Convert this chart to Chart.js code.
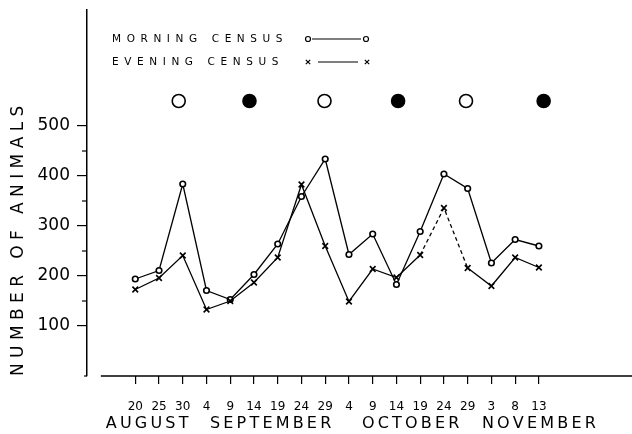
<!DOCTYPE html>
<html>
<head>
<meta charset="utf-8">
<script src="https://cdn.jsdelivr.net/npm/chart.js@4/dist/chart.umd.min.js"></script>
<style>
html,body{margin:0;padding:0;background:#fff}
#wrap{width:632px;height:434px}
</style>
</head>
<body>
<div id="wrap"><canvas id="grafico"></canvas></div>
<script>
// census dates (tick labels) and months
const days = ['20','25','30','4','9','14','19','24','29','4','9','14','19','24','29','3','8','13']
const months = ['AUGUST','SEPTEMBER','OCTOBER','NOVEMBER']
const monthMid = [0.5, 5.7, 11.6, 17.0]   // month centre, in census-index units
const morning = [194,211,384,171,153,203,264,359,434,243,284,183,289,404,375,226,273,260]
const evening = [173,196,241,133,150,187,237,383,260,149,214,197,242,336,216,180,237,217]
// moon phases: open = full moon, filled = new moon
const moonAt = [1.83, 4.81, 7.97, 11.07, 13.93, 17.2]
const moonFull = [true, false, true, false, true, false]
const moonLevel = 550
const yTicks = [100,200,300,400,500]
const yMinor = [150,250,350,450]

const font = '"DejaVu Sans", sans-serif'
const spaced = s => s.split('').join('\u2009')
const xMin = -2.033, xMax = 20.58

const decor = {
  id: 'decor',
  afterDraw(chart) {
    const c = chart.ctx, x = chart.scales.x, y = chart.scales.y
    const y0 = y.getPixelForValue(0)
    c.save()
    c.strokeStyle = '#000'
    c.lineWidth = 1.5
    // x baseline, starting a little right of the y axis
    c.beginPath()
    c.moveTo(x.getPixelForValue(-1.45), y0)
    c.lineTo(chart.width, y0)
    c.stroke()
    // minor y ticks
    c.lineWidth = 1.2
    yMinor.forEach(v => {
      const p = y.getPixelForValue(v)
      c.beginPath(); c.moveTo(y.right - 5, p); c.lineTo(y.right, p); c.stroke()
    })
    c.beginPath(); c.moveTo(y.right - 3, y0); c.lineTo(y.right, y0); c.stroke()

    // legend
    c.fillStyle = '#000'
    c.font = '10.5px ' + font
    c.letterSpacing = '5.6px'
    c.textBaseline = 'alphabetic'
    c.fillText('MORNING CENSUS', 112, 42)
    c.fillText('EVENING CENSUS', 112, 65)
    c.letterSpacing = '0px'
    c.lineWidth = 1.2
    // morning marker o——o
    c.beginPath(); c.arc(308, 39, 2.5, 0, Math.PI * 2); c.stroke()
    c.beginPath(); c.moveTo(312, 39); c.lineTo(361, 39); c.stroke()
    c.beginPath(); c.arc(366, 39, 2.5, 0, Math.PI * 2); c.stroke()
    // evening marker x——x
    const cross = (px, py, r) => {
      c.beginPath()
      c.moveTo(px - r, py - r); c.lineTo(px + r, py + r)
      c.moveTo(px - r, py + r); c.lineTo(px + r, py - r)
      c.stroke()
    }
    cross(308, 62, 2.2)
    c.beginPath(); c.moveTo(318, 62); c.lineTo(358, 62); c.stroke()
    cross(367, 62, 2.2)
    c.restore()
  }
}

const ctx = document.getElementById('grafico')
new Chart(ctx, {
  type: 'line',
  data: {
    datasets: [{
      label: 'EVENING CENSUS',
      data: evening.map((v, i) => ({x: i, y: v})),
      borderColor: '#000',
      borderWidth: 1.3,
      pointStyle: 'crossRot',
      pointRadius: 4,
      pointBorderWidth: 1.6,
      pointBorderColor: '#000',
      tension: 0,
      segment: {
        borderDash: s => (s.p0DataIndex === 12 || s.p0DataIndex === 13) ? [4, 3] : undefined
      }
    }, {
      label: 'MORNING CENSUS',
      data: morning.map((v, i) => ({x: i, y: v})),
      borderColor: '#000',
      borderWidth: 1.3,
      pointStyle: 'circle',
      pointRadius: 2.8,
      pointBackgroundColor: '#fff',
      pointBorderColor: '#000',
      pointBorderWidth: 1.6,
      tension: 0
    }, {
      label: 'moon',
      data: moonAt.map(v => ({x: v, y: moonLevel})),
      showLine: false,
      pointStyle: 'circle',
      pointRadius: 6.5,
      pointBorderWidth: 1.6,
      pointBorderColor: '#000',
      pointBackgroundColor: moonFull.map(f => f ? '#fff' : '#000')
    }]
  },
  options: {
    responsive: true,
    maintainAspectRatio: false,
    animation: false,
    layout: {padding: {top: 10, left: 0, right: 0, bottom: 0}},
    plugins: {legend: {display: false}, tooltip: {enabled: false}},
    scales: {
      x: {
        type: 'linear',
        position: 'bottom',
        min: xMin, max: xMax,
        afterBuildTicks: s => { s.ticks = days.map((d, i) => ({value: i})) },
        afterFit: s => { s.height = 34; s.paddingLeft = 0; s.paddingRight = 0 },
        ticks: {
          autoSkip: false, maxRotation: 0, color: '#000', padding: 16,
          font: {family: font, size: 12},
          callback: v => days[v]
        },
        grid: {drawOnChartArea: false, tickLength: 8, color: '#000', lineWidth: 1.2},
        border: {display: false}
      },
      mx: {
        type: 'linear',
        position: 'bottom',
        min: xMin, max: xMax,
        afterBuildTicks: s => { s.ticks = monthMid.map(v => ({value: v})) },
        afterFit: s => { s.height = 24; s.paddingLeft = 0; s.paddingRight = 0 },
        ticks: {
          autoSkip: false, maxRotation: 0, color: '#000', padding: 4,
          font: {family: font, size: 16},
          callback: (v, i) => spaced(months[i])
        },
        grid: {display: false, drawTicks: false},
        border: {display: false}
      },
      y: {
        min: 0, max: 732,
        afterBuildTicks: s => { s.ticks = yTicks.map(v => ({value: v})) },
        afterFit: s => { s.width = 87; s.paddingTop = 0; s.paddingBottom = 0 },
        ticks: {color: '#000', padding: 7, font: {family: font, size: 17}},
        grid: {drawOnChartArea: false, tickLength: 10, color: '#000', lineWidth: 1.2},
        border: {color: '#000', width: 1.5},
        title: {
          display: true,
          text: 'N U M B E R   O F   A N I M A L S',
          align: 'start',
          color: '#000',
          font: {family: font, size: 17},
          padding: {top: 8, bottom: 0}
        }
      }
    }
  },
  plugins: [decor]
})
</script>
</body>
</html>
